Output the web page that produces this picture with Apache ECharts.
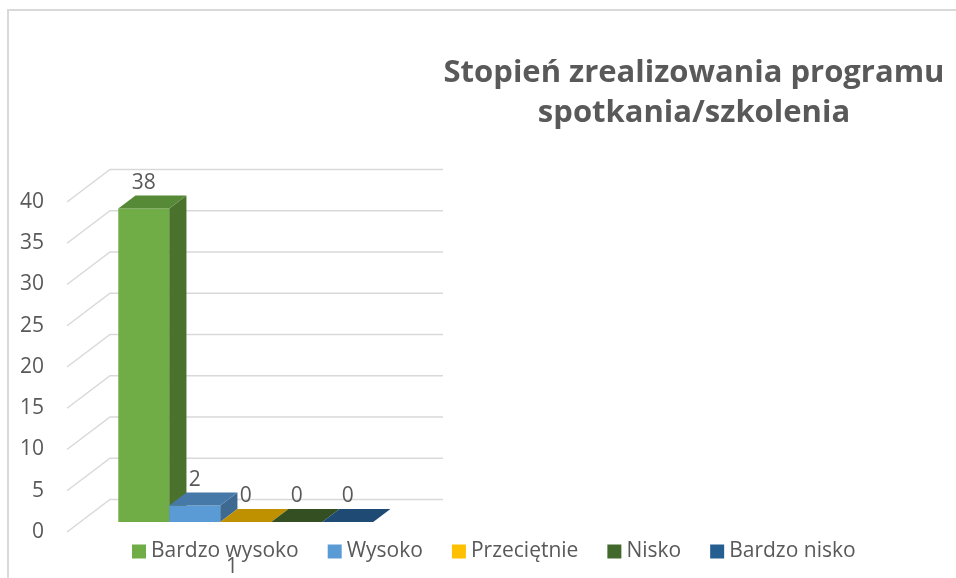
<html>
<head>
    <meta charset="utf-8">
    <title>Stopień zrealizowania programu spotkania/szkolenia</title>
    <script src="https://cdn.jsdelivr.net/npm/echarts@6/dist/echarts.min.js"></script>
</head>
<body style="margin:0;background:#fff">
    <div id="main" style="width:956px;height:578px;"></div>
    <script type="text/javascript">
        // dane
        var categories = ['1'];
        var seriesNames = ['Bardzo wysoko', 'Wysoko', 'Przeciętnie', 'Nisko', 'Bardzo nisko'];
        var seriesValues = [38, 2, 0, 0, 0];
        var yTicks = [0, 5, 10, 15, 20, 25, 30, 35, 40];

        // kolory: przód, góra, bok
        var frontColors = ['#70AD47', '#5B9BD5', '#FFC000', '#43682B', '#255E91'];
        var topColors = ['#578A37', '#4779A8', '#BF9000', '#344F21', '#1E4A73'];
        var sideColors = ['#4A722D', '#3E6A92', '#A67D00', '#2B431C', '#1A4064'];

        var DX = 43, DY = -32.5;      // głębokość "3D"
        var F1 = 0.31, F2 = 0.71;     // przód i tył słupka
        var GAP = 0.115, BARW = 0.1545;
        var textColor = '#595959';
        var font = 'Open Sans';

        var myChart = echarts.init(document.getElementById('main'));

        function gridRenderer(params, api) {
            var p = api.coord([0, api.value(0)]);
            var bandW = api.size([1, 0])[0];
            var left = p[0] - bandW / 2;
            return {
                type: 'polyline',
                shape: { points: [[left, p[1]], [left + DX, p[1] + DY], [left + DX + bandW + 3, p[1] + DY]] },
                style: { stroke: '#D9D9D9', lineWidth: 1.5, fill: null },
                silent: true
            };
        }

        function barRenderer(idx) {
            return function (params, api) {
                var cat = api.value(0);
                var base = api.coord([cat, 0]);
                var pt = api.coord([cat, api.value(1)]);
                var bandW = api.size([1, 0])[0];
                var w = bandW * BARW;
                var left = base[0] - bandW / 2 + bandW * GAP + idx * w;
                var x0 = left + DX * F1, y0 = base[1] + DY * F1, yt = pt[1] + DY * F1;
                var ddx = DX * (F2 - F1), ddy = DY * (F2 - F1);
                return {
                    type: 'group',
                    children: [
                        { type: 'polygon', shape: { points: [[x0, y0], [x0 + w, y0], [x0 + w, yt], [x0, yt]] },
                          style: { fill: frontColors[idx] } },
                        { type: 'polygon', shape: { points: [[x0 + w, y0], [x0 + w + ddx, y0 + ddy], [x0 + w + ddx, yt + ddy], [x0 + w, yt]] },
                          style: { fill: sideColors[idx] } },
                        { type: 'polygon', shape: { points: [[x0, yt], [x0 + w, yt], [x0 + w + ddx, yt + ddy], [x0 + ddx, yt + ddy]] },
                          style: { fill: topColors[idx] } },
                        { type: 'text', x: x0 + w / 2, y: yt + ddy - 2,
                          style: { text: String(api.value(1)), fill: textColor, font: '21px "' + font + '"', align: 'center', verticalAlign: 'bottom' } }
                    ]
                };
            };
        }

        var series = [{
            type: 'custom',
            name: 'grid',
            renderItem: gridRenderer,
            data: yTicks.map(function (v) { return [v]; }),
            z: 1,
            silent: true
        }];
        for (var i = 0; i < seriesNames.length; i++) {
            series.push({
                type: 'custom',
                name: seriesNames[i],
                renderItem: barRenderer(i),
                itemStyle: { color: frontColors[i] },
                encode: { x: 0, y: 1 },
                data: [[0, seriesValues[i]]],
                z: 2
            });
        }

        var option = {
            animation: false,
            title: {
                text: 'Stopień zrealizowania programu\nspotkania/szkolenia',
                left: 689,
                top: 48,
                textAlign: 'center',
                textStyle: { color: textColor, fontFamily: font, fontWeight: 'bold', fontSize: 31, lineHeight: 40 }
            },
            legend: {
                data: seriesNames,
                left: 127,
                top: 536,
                icon: 'rect',
                itemWidth: 14,
                itemHeight: 14,
                itemGap: 29,
                textStyle: { color: textColor, fontFamily: font, fontSize: 21 }
            },
            graphic: [{
                type: 'rect',
                shape: { x: 8, y: 10, width: 1000, height: 700 },
                style: { fill: null, stroke: '#D9D9D9', lineWidth: 2 },
                silent: true
            }],
            grid: { left: 67, top: 202, width: 330, height: 331 },
            xAxis: {
                type: 'category',
                data: categories,
                axisLine: { show: false },
                axisTick: { show: false },
                axisLabel: { margin: 25, color: textColor, fontFamily: font, fontSize: 21 }
            },
            yAxis: {
                type: 'value',
                min: 0,
                max: 40,
                interval: 5,
                axisLine: { show: false },
                axisTick: { show: false },
                splitLine: { show: false },
                axisLabel: { margin: 23, color: textColor, fontFamily: font, fontSize: 21 }
            },
            series: series
        };

        myChart.setOption(option);
    </script>
</body>
</html>
